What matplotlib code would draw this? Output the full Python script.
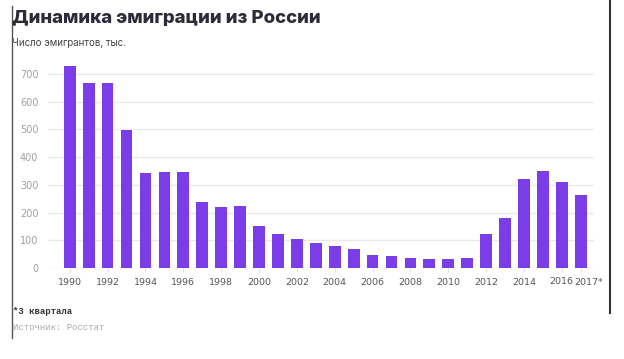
import matplotlib
matplotlib.use("Agg")
import matplotlib.pyplot as plt
from matplotlib.lines import Line2D
from matplotlib.transforms import ScaledTranslation

years = list(range(1990, 2018))
values = [729, 669, 666, 497, 342, 347, 347, 239, 220, 224, 150, 121, 105, 89,
          80, 69, 48, 43, 36, 32, 32, 36, 123, 180, 320, 351, 309, 262]
tick_labels = [str(y) for y in range(1990, 2017, 2)] + ["2017*"]
y_ticks = [0, 100, 200, 300, 400, 500, 600, 700]

title = "Динамика эмиграции из России"
subtitle = "Число эмигрантов, тыс."
footnote = "*3 квартала"
source = "Источник: Росстат"

W, H = 624, 359
fig = plt.figure(figsize=(W / 100, H / 100), dpi=100)
ax = fig.add_axes([48 / W, (H - 268) / H, (594 - 48) / W, 207.8 / H])

xs = list(range(len(years)))
ax.bar(xs, values, width=0.62, color="#7A3DE8", zorder=3)
ax.set_xlim(-1.15, len(years) - 1 + 0.70)
ax.set_ylim(0, 750)

ax.set_yticks(y_ticks)
ax.set_yticklabels([str(v) for v in y_ticks])
ax.yaxis.grid(True, color="#e9e9e9", linewidth=1.0, zorder=0)
ax.tick_params(axis="y", length=0, labelsize=7, labelcolor="#a0a0a0", pad=7)

tick_pos = [i for i, y in enumerate(years) if (y % 2 == 0 and y <= 2016)] + [len(years) - 1]
ax.set_xticks(tick_pos)
ax.set_xticklabels(tick_labels)
ax.tick_params(axis="x", length=3, color="#e0e0e0", labelsize=6.8, labelcolor="#555555", pad=4.5)

xl = ax.get_xticklabels()
xl[-1].set_transform(xl[-1].get_transform() + ScaledTranslation(8 / 100, 0, fig.dpi_scale_trans))
xl[-2].set_transform(xl[-2].get_transform() + ScaledTranslation(-1 / 100, 1.5 / 100, fig.dpi_scale_trans))

for s in ax.spines.values():
    s.set_visible(False)

fam = ["Inter", "DejaVu Sans"]
fig.text(12 / W, 1 - 19 / H, title, fontsize=13.4, fontweight="heavy", color="#2b2b3a",
         va="center", ha="left", family=fam)
fig.text(12 / W, 1 - 43 / H, subtitle, fontsize=7, color="#444444",
         va="center", ha="left", family=fam)
mono = ["Liberation Mono", "DejaVu Sans Mono"]
fig.text(13 / W, 1 - 312 / H, footnote, fontsize=6.5, color="#333333", fontweight="bold",
         va="center", ha="left", family=mono)
fig.text(13 / W, 1 - 328 / H, source, fontsize=6.5, color="#aaaaaa",
         va="center", ha="left", family=mono)

fig.add_artist(Line2D([11.5 / W, 11.5 / W], [1 - 6 / H, 1 - 338 / H], color="#555555", linewidth=1.0))
fig.add_artist(Line2D([610 / W, 610 / W], [1.0, 1 - 313 / H], color="#333333", linewidth=1.5))

fig.savefig("out.png", dpi=100, facecolor="white")
